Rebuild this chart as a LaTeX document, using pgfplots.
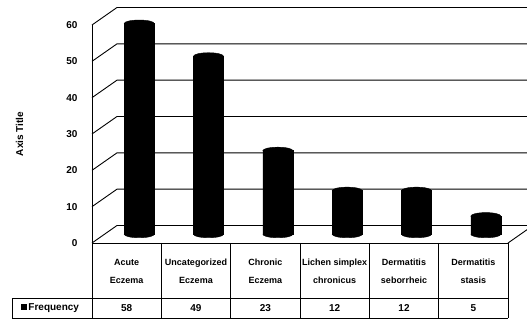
\documentclass[border=0pt]{standalone}
\usepackage{fontspec}
\setmainfont{Liberation Sans}
\usepackage{pgfplots}
\pgfplotsset{compat=1.18}
\usepackage{pgfplotstable}

% Frequency per diagnosis (x = category centre)
\pgfplotstableread{
x   v
0.5 58
1.5 49
2.5 23
3.5 12
4.5 12
5.5 5
}\freq

% elliptic cap that rounds the ends of a bar into a cylinder
\pgfdeclareplotmark{cap}{%
  \pgfpathellipse{\pgfpointorigin}{\pgfqpoint{15pt}{0pt}}{\pgfqpoint{0pt}{3.5pt}}%
  \pgfusepathqfillstroke}

\begin{document}
\begin{tikzpicture}[font=\bfseries\fontsize{10}{12}\selectfont, grid/.style={black, line width=0.9pt}]
\path[use as bounding box] (0,0) rectangle (527pt,321pt);
\clip (0,0) rectangle (527pt,321pt);

% walls, floor, gridlines and the data table underneath
\begin{axis}[
  at={(92pt,78pt)}, anchor=south west,
  scale only axis, width=416pt, height=218pt,
  xmin=0, xmax=6, ymin=0, ymax=60,
  axis line style={draw=none}, clip=false,
  xtick={0.5,1.5,...,5.5},
  xticklabels={{Acute\\Eczema},{Uncategorized\\Eczema},{Chronic\\Eczema},{Lichen simplex\\chronicus},{Dermatitis\\seborrheic},{Dermatitis\\stasis}},
  xticklabel style={align=center, font=\bfseries\fontsize{9}{18}\selectfont, anchor=north, yshift=-12.5pt},
  ytick={0,10,...,60},
  major tick length=0pt,
  yticklabel style={xshift=-11pt, font=\bfseries\fontsize{10}{12}\selectfont},
  /pgf/number format/assume math mode=true,
  ylabel={Axis Title},
  ylabel style={at={(axis description cs:-0.174,0.5)}, anchor=center, font=\bfseries\fontsize{10}{12}\selectfont},
]
% side wall diagonals and back wall gridlines
\pgfplotsinvokeforeach{0,10,...,60}{
  \draw[grid] (axis cs:0,#1) -- ++(25pt,17.5pt) -- ++(440pt,0pt);
}
% floor right edge
\draw[grid] (axis cs:6,0) -- ++(25pt,17.5pt);
% front left edge
\draw[grid] (axis cs:0,60) -- (axis cs:0,-20.64);
% table
\draw[grid] (axis cs:0,0) -- (axis cs:6,0);
\draw[grid] (axis cs:-1.154,-15.14) -- (axis cs:6,-15.14);
\draw[grid] (axis cs:-1.154,-20.64) -- (axis cs:6,-20.64);
\draw[grid] (axis cs:-1.154,-15.14) -- (axis cs:-1.154,-20.64);
\pgfplotsinvokeforeach{1,...,6}{
  \draw[grid] (axis cs:#1,0) -- (axis cs:#1,-20.64);
}
% value row of the table
\addplot[draw=none, mark=none, nodes near coords, point meta=explicit,
  nodes near coords style={anchor=center, text=black, font=\bfseries\fontsize{10}{12}\selectfont}]
  table[x=x, y expr=-17.9, meta=v] {\freq};
\node[anchor=west, inner sep=0pt] at (axis cs:-1.03,-17.9) {\rule{6pt}{6pt}\,Frequency};
\end{axis}

% cylinders, set half a depth step behind the front plane
\begin{axis}[
  at={(104.5pt,86.75pt)}, anchor=south west,
  scale only axis, width=416pt, height=218pt,
  xmin=0, xmax=6, ymin=0, ymax=60,
  hide axis, clip=false,
]
\addplot[ybar, bar width=30pt, fill=black, draw=black] table[x=x, y=v] {\freq};
\addplot[only marks, mark=cap, black] table[x=x, y=v] {\freq};
\addplot[only marks, mark=cap, black] table[x=x, y expr=0] {\freq};
\end{axis}
\end{tikzpicture}
\end{document}
